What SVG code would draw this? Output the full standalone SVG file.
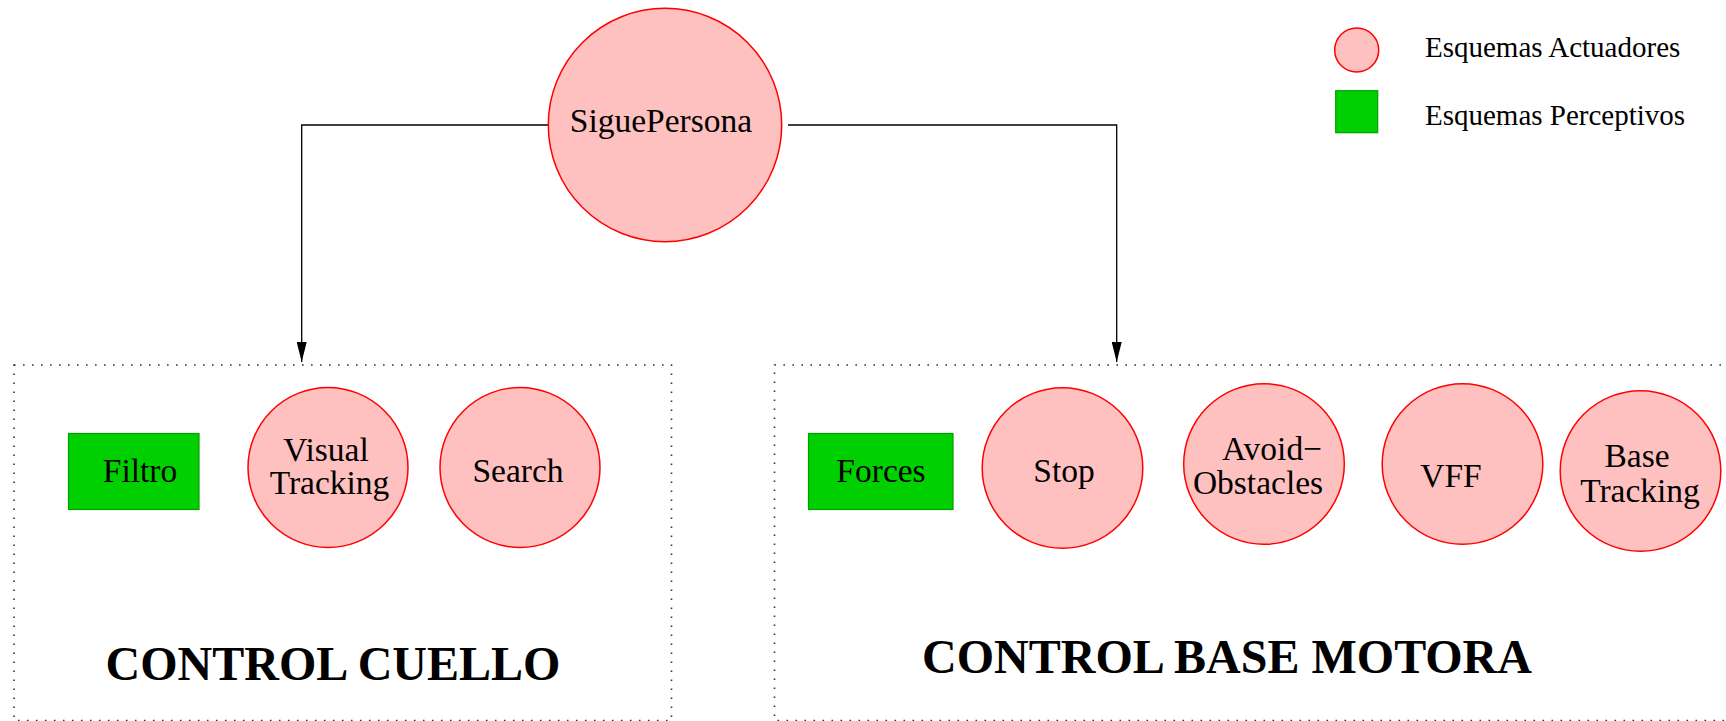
<svg xmlns="http://www.w3.org/2000/svg" width="1726" height="721" viewBox="0 0 1726 721">
<style>
.act{fill:#ffc0c0;stroke:#ff0000;stroke-width:1.5}
.per{fill:#00d000;stroke:#00a000;stroke-width:1.2}
.t{font-family:"Liberation Serif","Times New Roman",serif;font-size:33.5px;fill:#000;text-anchor:middle}
.lg{font-family:"Liberation Serif","Times New Roman",serif;font-size:29px;fill:#000}
.big{font-family:"Liberation Serif","Times New Roman",serif;font-size:48px;font-weight:bold;fill:#000;text-anchor:middle}
.box{fill:none;stroke:#333;stroke-width:1.6;stroke-dasharray:1.6 7.4}
.conn{fill:none;stroke:#000;stroke-width:1.3}
</style>
<defs>
<marker id="arr" viewBox="0 0 20 10" refX="20" refY="5" markerWidth="20" markerHeight="10" markerUnits="userSpaceOnUse" orient="auto">
<path d="M0,0 L20,5 L0,10 Z" fill="#000"/>
</marker>
</defs>
<rect width="1726" height="721" fill="#fff"/>
<g id="box-cuello">
<rect class="box" x="14" y="365" width="657.5" height="355.5"/>
<text class="big" x="333" y="680">CONTROL CUELLO</text>
</g>
<g id="box-base">
<path class="box" d="M1730,365 H774.5 V720.5 H1730"/>
<text class="big" x="1227" y="673">CONTROL BASE MOTORA</text>
</g>
<g id="connectors">
<path class="conn" d="M548,125 H301.7 V362" marker-end="url(#arr)"/>
<path class="conn" d="M788,125 H1116.7 V362" marker-end="url(#arr)"/>
</g>
<g id="siguepersona">
<circle class="act" cx="665" cy="125" r="116.7"/>
<text class="t" x="661" y="131.5">SiguePersona</text>
</g>
<g id="filtro">
<rect class="per" x="68.5" y="433.5" width="130.5" height="76"/>
<text class="t" x="140" y="481.5">Filtro</text>
</g>
<g id="visual-tracking">
<circle class="act" cx="328" cy="467.5" r="80"/>
<text class="t" x="326" y="460.5">Visual</text>
<text class="t" x="329.5" y="494">Tracking</text>
</g>
<g id="search">
<circle class="act" cx="520" cy="467.5" r="80"/>
<text class="t" x="518" y="481.5">Search</text>
</g>
<g id="forces">
<rect class="per" x="808.5" y="433.5" width="144.5" height="76"/>
<text class="t" x="881" y="481.5">Forces</text>
</g>
<g id="stop">
<circle class="act" cx="1062.5" cy="468" r="80.3"/>
<text class="t" x="1064" y="481.5">Stop</text>
</g>
<g id="avoid-obstacles">
<circle class="act" cx="1264" cy="464" r="80.3"/>
<text class="t" x="1272" y="460">Avoid−</text>
<text class="t" x="1258" y="494">Obstacles</text>
</g>
<g id="vff">
<circle class="act" cx="1462.5" cy="464" r="80.3"/>
<text class="t" x="1451" y="487">VFF</text>
</g>
<g id="base-tracking">
<circle class="act" cx="1640.5" cy="471" r="80.3"/>
<text class="t" x="1637" y="466.5">Base</text>
<text class="t" x="1640" y="501.5">Tracking</text>
</g>
<g id="legend">
<circle class="act" cx="1356.7" cy="50" r="22"/>
<text class="lg" x="1425" y="57.3">Esquemas Actuadores</text>
<rect class="per" x="1335.7" y="90.7" width="42" height="42"/>
<text class="lg" x="1425" y="125">Esquemas Perceptivos</text>
</g>
</svg>
